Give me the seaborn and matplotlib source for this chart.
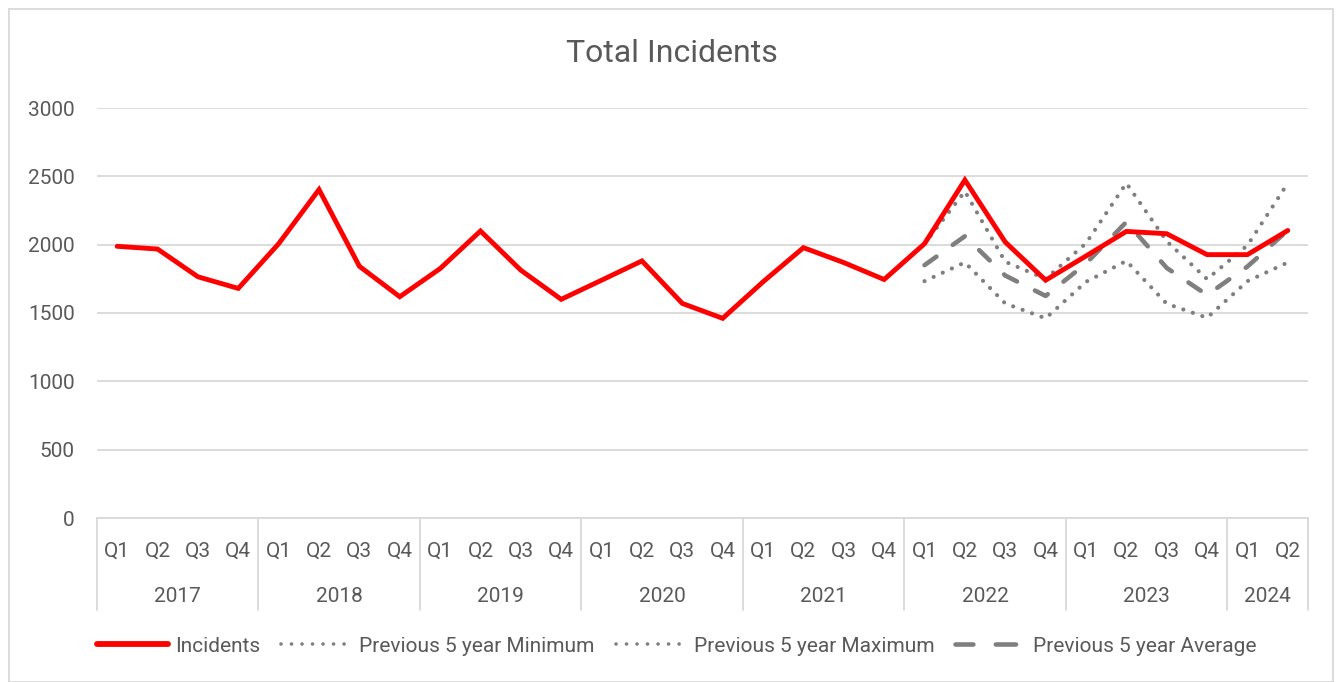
import matplotlib
matplotlib.use("Agg")
import matplotlib.pyplot as plt
import matplotlib.transforms as mtransforms
from matplotlib.patches import Rectangle
from matplotlib.lines import Line2D
import seaborn as sns
import pandas as pd

years = ["2017", "2018", "2019", "2020", "2021", "2022", "2023", "2024"]
quarters_per_year = [4, 4, 4, 4, 4, 4, 4, 2]
quarter_names = ["Q1", "Q2", "Q3", "Q4"]

incidents = [1988, 1968, 1765, 1680,
             2007, 2403, 1842, 1619,
             1825, 2100, 1813, 1600,
             1740, 1881, 1570, 1461,
             1728, 1978, 1869, 1745,
             2007, 2473, 2019, 1740,
             1917, 2097, 2080, 1927,
             1927, 2104]

# Previous-5-year series start at 2022 Q1
prev_min = [1733, 1870, 1570, 1461, 1728, 1881, 1568, 1465, 1733, 1870]
prev_max = [2007, 2390, 1875, 1750, 2010, 2450, 2025, 1748, 1995, 2450]
prev_avg = [1850, 2062, 1774, 1625, 1862, 2166, 1830, 1632, 1840, 2105]

labels_q = []
for y, n in zip(years, quarters_per_year):
    labels_q.extend(quarter_names[:n])
n_pts = len(labels_q)
start_prev = n_pts - len(prev_min)

df = pd.DataFrame({"idx": list(range(n_pts)), "Incidents": incidents})
dfp = pd.DataFrame({"idx": list(range(start_prev, n_pts)),
                    "min": prev_min, "max": prev_max, "avg": prev_avg})

sns.set_theme(style="white")
plt.rcParams["font.family"] = ["Roboto", "DejaVu Sans"]
text_color = "#595959"
grid_color = "#D9D9D9"
gray = "#7F7F7F"
red = "#FF0000"
dot_style = (0, (0.01, 2.4))
dash_style = (0, (3.2, 4.4))

W, H = 1338, 682
fig = plt.figure(figsize=(W / 100, H / 100), dpi=100)
ax_left, ax_right, ax_top, ax_bottom = 97, 1308, 108, 518
ax = fig.add_axes([ax_left / W, 1 - ax_bottom / H,
                   (ax_right - ax_left) / W, (ax_bottom - ax_top) / H])

sns.lineplot(data=dfp, x="idx", y="min", ax=ax, color=gray, lw=3.0,
             linestyle=dot_style, dash_capstyle="round", legend=False)
sns.lineplot(data=dfp, x="idx", y="max", ax=ax, color=gray, lw=3.0,
             linestyle=dot_style, dash_capstyle="round", legend=False)
sns.lineplot(data=dfp, x="idx", y="avg", ax=ax, color=gray, lw=3.3,
             linestyle=dash_style, dash_capstyle="round", legend=False)
sns.lineplot(data=df, x="idx", y="Incidents", ax=ax, color=red, lw=3.5,
             solid_capstyle="round", solid_joinstyle="miter", legend=False)

ax.set_xlim(-0.5, n_pts - 0.5)
ax.set_ylim(0, 3000)
ax.set_yticks(range(0, 3001, 500))
ax.yaxis.grid(True, color=grid_color, lw=1.3)
ax.set_axisbelow(True)
for s in ["top", "right", "left"]:
    ax.spines[s].set_visible(False)
ax.spines["bottom"].set_color(grid_color)
ax.spines["bottom"].set_linewidth(1.3)
ax.set_xlabel("")
ax.set_ylabel("")
ax.tick_params(axis="y", length=0, pad=16, labelsize=15, labelcolor=text_color)
ax.set_xticks(range(n_pts))
ax.set_xticklabels(labels_q)
ax.tick_params(axis="x", length=0, pad=17, labelsize=15, labelcolor=text_color)

# two-level category axis: year labels and separators
trans = mtransforms.blended_transform_factory(ax.transData, ax.transAxes)
span = ax_bottom - ax_top
sep_bottom = -(610 - ax_bottom) / span
pos = -0.5
ax.plot([pos, pos], [0, sep_bottom], transform=trans, color=grid_color,
        lw=1.3, clip_on=False)
for y, n in zip(years, quarters_per_year):
    center = pos + n / 2
    ax.text(center, -(597 - ax_bottom) / span, y,
            transform=trans, ha="center", va="center", fontsize=15,
            color=text_color)
    pos += n
    ax.plot([pos, pos], [0, sep_bottom], transform=trans, color=grid_color,
            lw=1.3, clip_on=False)

# title
fig.text(672 / W, 1 - 54 / H, "Total Incidents", ha="center", va="center",
         fontsize=23, color=text_color)

# legend
order = ["Incidents", "Previous 5 year Minimum", "Previous 5 year Maximum",
         "Previous 5 year Average"]
leg_handles = [
    Line2D([], [], color=red, lw=4.2, solid_capstyle="round"),
    Line2D([], [], color=gray, lw=2.6, linestyle=(0, (0.01, 2.9)),
           dash_capstyle="round"),
    Line2D([], [], color=gray, lw=2.6, linestyle=(0, (0.01, 2.9)),
           dash_capstyle="round"),
    Line2D([], [], color=gray, lw=3.3, linestyle=(0.5, (4.4, 4.9)),
           dash_capstyle="round"),
]
fig.legend(leg_handles, order, loc="center",
           bbox_to_anchor=(677 / W, 1 - 646 / H), ncol=4, frameon=False,
           fontsize=15, labelcolor=text_color, handlelength=3.4,
           handletextpad=0.35, columnspacing=1.0)

# chart area border
fig.patches.append(Rectangle((9 / W, 0.0), (1333 - 9) / W, 1 - 9 / H,
                             transform=fig.transFigure, fill=False,
                             edgecolor=grid_color, lw=1.3))

fig.savefig("out.png", dpi=100)
